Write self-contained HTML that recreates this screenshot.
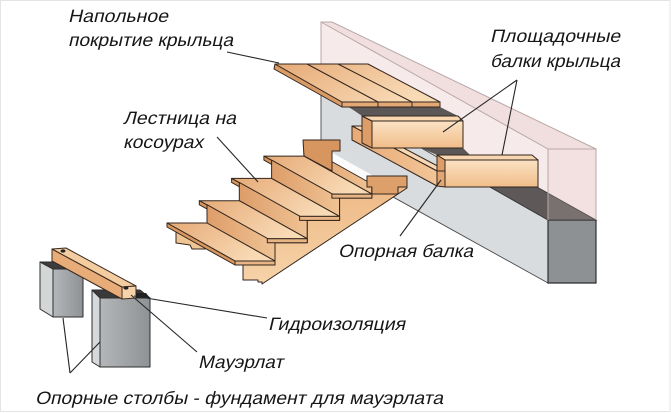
<!DOCTYPE html>
<html>
<head>
<meta charset="utf-8">
<style>
  html,body{margin:0;padding:0;background:#fff;}
  svg{display:block;}
  text{font-family:"Liberation Sans","DejaVu Sans",sans-serif;fill:#161616;}
</style>
</head>
<body>
<svg width="671" height="413" viewBox="0 0 671 413" xmlns="http://www.w3.org/2000/svg">
  <defs>
    <linearGradient id="wt" x1="0" y1="0" x2="1" y2="0.4">
      <stop offset="0" stop-color="#e6aa77"/>
      <stop offset="1" stop-color="#f8dab5"/>
    </linearGradient>
    <linearGradient id="wr" x1="0" y1="0" x2="1" y2="0">
      <stop offset="0" stop-color="#dd9d69"/>
      <stop offset="1" stop-color="#f0c394"/>
    </linearGradient>
    <linearGradient id="bf" x1="0" y1="0" x2="0" y2="1">
      <stop offset="0" stop-color="#fbe2c4"/>
      <stop offset="1" stop-color="#f1bd89"/>
    </linearGradient>
    <linearGradient id="sf" x1="0" y1="0" x2="0" y2="1">
      <stop offset="0" stop-color="#edb783"/>
      <stop offset="1" stop-color="#f6d3a8"/>
    </linearGradient>
    <linearGradient id="sb" x1="0" y1="0" x2="1" y2="0">
      <stop offset="0" stop-color="#e7aa76"/>
      <stop offset="1" stop-color="#f2c596"/>
    </linearGradient>
    <linearGradient id="cg" x1="0" y1="0" x2="1" y2="0">
      <stop offset="0" stop-color="#b4b7ba"/>
      <stop offset="1" stop-color="#8f9295"/>
    </linearGradient>
  </defs>

  <!-- frame -->
  <rect x="0.5" y="0.5" width="669.5" height="411" fill="#fff" stroke="#e4e4e4" stroke-width="1"/>

  <!-- translucent house wall -->
  <polygon points="321,22 548,149 548,220 321,91" fill="#f7eaea"/>
  <polygon points="321,22 332,22 596,149 548,149" fill="#f1dfdf"/>
  <polygon points="548,149 596,149 596,220 548,220" fill="#f3e1e1"/>

  <!-- concrete foundation block -->
  <polygon points="321,91 548,220 548,283 321,157" fill="#d9dcdf" stroke="#4a4a4a" stroke-width="0.9"/>
  <polygon points="349,107 440,107 458,116 362,116" fill="#5c5757"/>
  <polygon points="421,148 463,148 470,155 437,155" fill="#5c5757"/>
  <polygon points="490,187 537,187 596,220 548,220" fill="#5e5858" stroke="#333" stroke-width="0.8"/>
  <polygon points="548,220 596,220 596,283 548,283" fill="#8e9194" stroke="#2e2e2e" stroke-width="1.2"/>
  <rect x="548" y="187" width="48" height="33" fill="#f3dede" opacity="0.18"/>

  <!-- wall edges -->
  <g fill="none" stroke="#b9a8a8" stroke-width="1">
    <polyline points="321,91 321,22 332,22 596,149 596,220"/>
    <polyline points="321,22 548,149 548,220"/>
    <line x1="548" y1="149" x2="596" y2="149"/>
  </g>

  <!-- stairs -->
  <g stroke="#33261e" stroke-width="1" stroke-linejoin="round">
    <polygon points="303.9,137 371.9,175 371.9,184 303.9,146" fill="#fbfbfb" stroke="none"/>
    <polygon points="303.9,156.1 371.9,194.1 371.9,184 303.9,146" fill="url(#wr)"/>
    <polygon points="303,140 340,140 340,151 332,151 332,171 304,156" fill="#d7965f"/>
    <polygon points="263.9,156.1 303.9,156.1 371.9,194.1 331.9,194.1" fill="url(#wt)"/>
    <polygon points="263.9,156.1 331.9,194.1 331.9,198.1 263.9,160.1" fill="#d7975f"/>
    <polygon points="271.6,178.4 339.6,216.4 339.6,198.1 271.6,160.1" fill="url(#wr)"/>
    <polygon points="231.6,178.4 271.6,178.4 339.6,216.4 299.6,216.4" fill="url(#wt)"/>
    <polygon points="231.6,178.4 299.6,216.4 299.6,220.4 231.6,182.4" fill="#d7975f"/>
    <polygon points="239.3,200.7 307.3,238.7 307.3,220.4 239.3,182.4" fill="url(#wr)"/>
    <polygon points="199.3,200.7 239.3,200.7 307.3,238.7 267.3,238.7" fill="url(#wt)"/>
    <polygon points="199.3,200.7 267.3,238.7 267.3,242.7 199.3,204.7" fill="#d7975f"/>
    <polygon points="207,223 275,261 275,242.7 207,204.7" fill="url(#wr)"/>
    <polygon points="176,227 205,227 205,249 192,249 190,245 176,243" fill="#efc594"/>
    <polygon points="167,223 207,223 275,261 235,261" fill="url(#wt)"/>
    <polygon points="167,223 235,261 235,265 167,227" fill="#d7975f"/>

    <polygon points="243,280 243,265 275,265 275,242.7 307.3,242.7 307.3,220.4 339.6,220.4 339.6,198.1 371.9,198.1 371.9,187 367,187 367,176 407,176 407,188 262,284 262,282 258,282 258,280" fill="url(#sf)"/>
    <polygon points="367,176 407,176 407,187 398,187 398,194 371.9,194 371.9,187 367,187" fill="#dea06a"/>

    <polygon points="235,261 275,261 275,265 235,265" fill="#eab584"/>
    <polygon points="267.3,238.7 307.3,238.7 307.3,242.7 267.3,242.7" fill="#eab584"/>
    <polygon points="299.6,216.4 339.6,216.4 339.6,220.4 299.6,220.4" fill="#eab584"/>
    <polygon points="331.9,194.1 371.9,194.1 371.9,198.1 331.9,198.1" fill="#eab584"/>

    <polygon points="352,126 362,126 447,171 437,171" fill="#f7d8b3"/>
    <polygon points="352,126 437,171 437,186 352,140" fill="url(#sb)"/>

    <polygon points="362,116 372,121 372,148 362,143" fill="#dc9d68"/>
    <polygon points="362,116 458,116 463,121 372,121" fill="#f7d6b0"/>
    <polygon points="372,121 463,121 463,148 372,148" fill="url(#bf)"/>

    <polygon points="437,155 532,155 538,160 445,160" fill="#f7d6b0"/>
    <polygon points="437,155 445,160 445,171 437,171" fill="#dc9d68"/>
    <polygon points="445,160 538,160 538,187 445,187" fill="url(#bf)"/>
    <polygon points="437,171 445,171 445,187 437,186" fill="#e3a571"/>

    <polygon points="275,64 342,102 342,107 274,69" fill="#d99b66"/>
    <polygon points="275,64 368,64 440,102 342,102" fill="url(#wt)"/>
    <polygon points="342,102 440,102 440,107 342,107" fill="#e4a875"/>
    <polyline points="307,64 378,102 378,107" fill="none"/>
    <polyline points="338,64 412,102 412,107" fill="none"/>
  </g>

  <!-- columns & mauerlat -->
  <g stroke="#2e2e2e" stroke-width="1" stroke-linejoin="round">
    <polygon points="40,262 70,262 83,269 53,269" fill="#3c3c3c"/>
    <polygon points="40,262 53,269 53,317 40,309" fill="#d3d5d7"/>
    <polygon points="53,269 83,269 83,317 53,317" fill="url(#cg)"/>

    <polygon points="92,290 140,290 150,298 100,298" fill="#3a3a3a"/>
    <polygon points="92,290 100,298 100,367 92,362" fill="#d6d8da"/>
    <polygon points="100,298 150,298 150,367 100,367" fill="url(#cg)"/>

    <polygon points="52,249 122,287 122,299 52,261" fill="#e8ac78" stroke="#3a2a20"/>
    <polygon points="52,249 66,248 136,286 122,287" fill="#f3cca0" stroke="#3a2a20"/>
    <polygon points="122,287 136,286 136,298 122,299" fill="#f5d2aa" stroke="#3a2a20"/>
  </g>
  <ellipse cx="63" cy="251" rx="2.5" ry="1.6" fill="#222"/>
  <ellipse cx="126" cy="288" rx="2.5" ry="1.6" fill="#222"/>
  <polygon points="136,293 146,293 150,298 136,298" fill="#222"/>

  <!-- leader lines -->
  <g stroke="#262626" stroke-width="1.1" fill="none">
    <line x1="227" y1="52" x2="279" y2="63"/>
    <line x1="217" y1="137" x2="258" y2="182"/>
    <line x1="517" y1="80" x2="443" y2="132"/>
    <line x1="517" y1="80" x2="502" y2="155"/>
    <line x1="400" y1="236" x2="441" y2="180"/>
    <line x1="134" y1="296" x2="267" y2="318"/>
    <line x1="131" y1="295" x2="197" y2="352"/>
    <line x1="70" y1="373" x2="63" y2="318"/>
    <line x1="70" y1="373" x2="100" y2="342"/>
  </g>

  <!-- labels (oblique via skew) -->
  <g font-size="18">
    <text transform="translate(68,22) skewX(-13)" textLength="100" lengthAdjust="spacingAndGlyphs">Напольное</text>
    <text transform="translate(68,46) skewX(-13)" textLength="165" lengthAdjust="spacingAndGlyphs">покрытие крыльца</text>
    <text transform="translate(123,124) skewX(-13)" textLength="113" lengthAdjust="spacingAndGlyphs">Лестница на</text>
    <text transform="translate(123,148) skewX(-13)" textLength="80" lengthAdjust="spacingAndGlyphs">косоурах</text>
    <text transform="translate(490,42) skewX(-13)" textLength="130" lengthAdjust="spacingAndGlyphs">Площадочные</text>
    <text transform="translate(490,67) skewX(-13)" textLength="130" lengthAdjust="spacingAndGlyphs">балки крыльца</text>
    <text transform="translate(338,257) skewX(-13)" textLength="135" lengthAdjust="spacingAndGlyphs">Опорная балка</text>
    <text transform="translate(268,330) skewX(-13)" textLength="137" lengthAdjust="spacingAndGlyphs">Гидроизоляция</text>
    <text transform="translate(198,368) skewX(-13)" textLength="85" lengthAdjust="spacingAndGlyphs">Мауэрлат</text>
    <text transform="translate(35,404) skewX(-13)" textLength="408" lengthAdjust="spacingAndGlyphs">Опорные столбы - фундамент для мауэрлата</text>
  </g>
</svg>
</body>
</html>
